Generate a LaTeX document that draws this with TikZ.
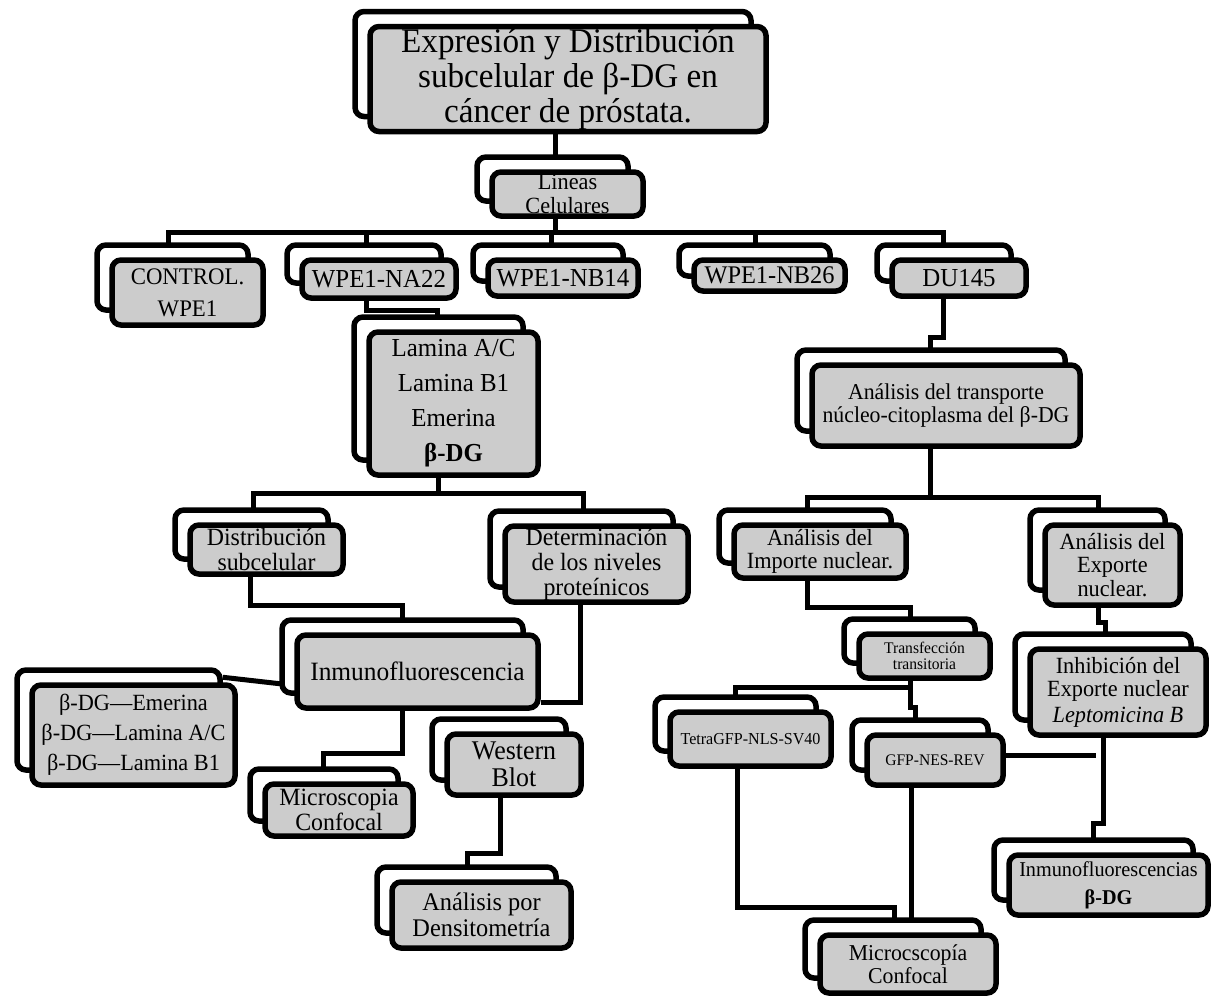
\documentclass[tikz,border=0pt]{standalone}
\usepackage{fontspec}
\setmainfont{Liberation Serif}[FakeStretch=0.96]
\usetikzlibrary{shadows,calc,backgrounds}
\newcommand\fsz[2]{\fontsize{\fpeval{#1*1.08}}{#2}\selectfont}
\tikzset{
  box/.style={draw=black, line width=5.5pt, fill=black!20, rounded corners=9pt,
    align=center, inner sep=0pt,
    copy shadow={shadow xshift=-15pt, shadow yshift=15pt, fill=white, draw=black, line width=5.5pt}},
  conn/.style={draw=black, line width=5pt}
}
\begin{document}
\begin{tikzpicture}[x=1pt,y=-1pt]
\useasboundingbox (0,0) rectangle (1226,999);
% nodes (front boxes; back boxes are copy shadows)
\node[box, minimum width=396pt, minimum height=105pt, font=\fsz{32}{35}] (title) at (568,79) {Expresión y Distribución\\subcelular de β-DG en\\cáncer de próstata.};
\node[box, minimum width=151pt, minimum height=44pt, font=\fsz{21.5}{23.5}] (lin) at (567.5,194) {Lineas\\Celulares};
\node[box, minimum width=151pt, minimum height=65pt, font=\fsz{22}{24}] (ctrl) at (187.5,292.5) {CONTROL.\\[8pt]WPE1};
\node[box, minimum width=154pt, minimum height=38pt, font=\fsz{24}{26}] (na) at (379,279) {WPE1-NA22};
\node[box, minimum width=150pt, minimum height=36pt, font=\fsz{24}{26}] (nb14) at (563,278) {WPE1-NB14};
\node[box, minimum width=151pt, minimum height=31pt, font=\fsz{23.5}{26}] (nb26) at (769.5,275.5) {WPE1-NB26};
\node[box, minimum width=134pt, minimum height=36pt, font=\fsz{24}{26}] (du) at (959,278) {DU145};
\node[box, minimum width=169pt, minimum height=143pt, font=\fsz{24}{35}] (lam) at (453.5,403.5) {Lamina A/C\\Lamina B1\\Emerina\\\textbf{β-DG}};
\node[box, minimum width=268pt, minimum height=81pt, font=\fsz{21}{23}] (tr) at (946,405.5) {Análisis del transporte\\núcleo-citoplasma del β-DG};
\node[box, minimum width=153pt, minimum height=49pt, font=\fsz{23}{25}] (dist) at (266.5,549.5) {Distribución\\subcelular};
\node[box, minimum width=183pt, minimum height=76pt, font=\fsz{23}{25}] (det) at (596.5,564) {Determinación\\de los niveles\\proteínicos};
\node[box, minimum width=172pt, minimum height=53pt, font=\fsz{21.5}{23.5}] (imp) at (820,551.5) {Análisis del\\Importe nuclear.};
\node[box, minimum width=135pt, minimum height=80pt, font=\fsz{21.5}{23.5}] (exp) at (1112.5,565) {Análisis del\\Exporte\\nuclear.};
\node[box, minimum width=241pt, minimum height=73pt, font=\fsz{24.5}{26}] (inm) at (417.5,671.5) {Inmunofluorescencia};
\node[box, minimum width=131pt, minimum height=44pt, font=\fsz{15}{16.5}] (tf) at (924.5,656) {Transfección\\transitoria};
\node[box, minimum width=176pt, minimum height=86pt, font=\fsz{21.5}{23.5}] (inh) at (1118,692) {Inhibición del\\Exporte nuclear\\[2pt]\textit{Leptomicina B}};
\node[box, minimum width=203pt, minimum height=100pt, font=\fsz{21.5}{30}] (blist) at (133.5,735) {β-DG—Emerina\\β-DG—Lamina A/C\\β-DG—Lamina B1};
\node[box, minimum width=161pt, minimum height=54pt, font=\fsz{15.5}{17}] (tet) at (750.5,739) {TetraGFP-NLS-SV40};
\node[box, minimum width=136pt, minimum height=50pt, font=\fsz{15}{17}] (gfp) at (935,760) {GFP-NES-REV};
\node[box, minimum width=134pt, minimum height=61pt, font=\fsz{25}{27}] (wb) at (514,764.5) {Western\\Blot};
\node[box, minimum width=148pt, minimum height=52pt, font=\fsz{23}{25}] (mic) at (339,810) {Microscopia\\Confocal};
\node[box, minimum width=199pt, minimum height=60pt, font=\fsz{19.5}{28}] (inf) at (1108.5,885) {Inmunofluorescencias\\\textbf{β-DG}};
\node[box, minimum width=179pt, minimum height=66pt, font=\fsz{23.5}{25.5}] (dens) at (481.5,915) {Análisis por\\Densitometría};
\node[box, minimum width=176pt, minimum height=58pt, font=\fsz{21}{23}] (mc) at (908,964) {Microcscopía\\Confocal};
% connectors
\begin{pgfonlayer}{background}
\fill[white] (0,0) rectangle (1226,999);
\draw[conn] ($(title.south)+(-13,0)$) -- ($(lin.north)+(-12.5,0)$);
\draw[conn] ($(lin.south)+(-12.5,0)$) -- ++(0,14) coordinate (b1);
\draw[conn] ($(ctrl.north)+(-19.5,0)$) |- (b1) -| ($(du.north)+(-16,0)$);
\draw[conn] ($(na.north)+(-13,0)$) |- (b1);
\draw[conn] ($(nb14.north)+(-12,0)$) |- (b1);
\draw[conn] ($(nb26.north)+(-14.5,0)$) |- (b1);
\draw[conn] ($(na.south)+(-13,0)$) -- ++(0,10) -| ($(lam.north)+(-16,0)$);
\draw[conn] ($(du.south)+(-16,0)$) -- ++(0,39) -| ($(tr.north)+(-16,0)$);
\draw[conn] ($(lam.south)+(-15.5,0)$) -- ++(0,16) coordinate (b2);
\draw[conn] ($(dist.north)+(-13.5,0)$) |- (b2) -| ($(det.north)+(-13.5,0)$);
\draw[conn] ($(tr.south)+(-16,0)$) -- ++(0,49) coordinate (b3);
\draw[conn] ($(imp.north)+(-13,0)$) |- (b3) -| ($(exp.north)+(-14.5,0)$);
\draw[conn] ($(dist.south)+(-16.5,0)$) -- ++(0,29) -| ($(inm.north)+(-15.5,0)$);
\draw[conn] ($(det.south)+(-16.5,0)$) |- ($(inm.east)+(0,31)$);
\draw[conn] ($(blist.north east)+(-15,-5)$) -- ($(inm.west)+(10,15)$);
\draw[conn] ($(inm.south)+(-15.5,0)$) -- ++(0,43) -| ($(mic.north)+(-16,0)$);
\draw[conn] ($(wb.south)+(-14,0)$) -- ++(0,56) -| ($(dens.north)+(-14.5,0)$);
\draw[conn] ($(imp.south)+(-13,0)$) -- ++(0,27) -| ($(tf.north)+(-14.5,0)$);
\draw[conn] ($(exp.south)+(-14.5,0)$) -- ++(0,15) -| ($(inh.north)+(-13,0)$);
\draw[conn] ($(tf.south)+(-14.5,0)$) -- ++(0,7) coordinate (b4) -| ($(tet.north)+(-15.5,0)$);
\draw[conn] (b4) -- ++(0,20) -| ($(gfp.north)+(-20,0)$);
\draw[conn] ($(tet.south)+(-13.5,0)$) -- ++(0,139) -| ($(mc.north)+(-14,0)$);
\draw[conn] ($(gfp.south)+(-24,0)$) coordinate (g1) -- (g1 |- mc.north);
\draw[conn] ($(inh.south)+(-15,0)$) -- ++(0,86) -| ($(inf.north)+(-15.5,0)$);
\draw[conn] ($(gfp.east)+(0,-5)$) -- ++(90,0);
\end{pgfonlayer}
\end{tikzpicture}
\end{document}
